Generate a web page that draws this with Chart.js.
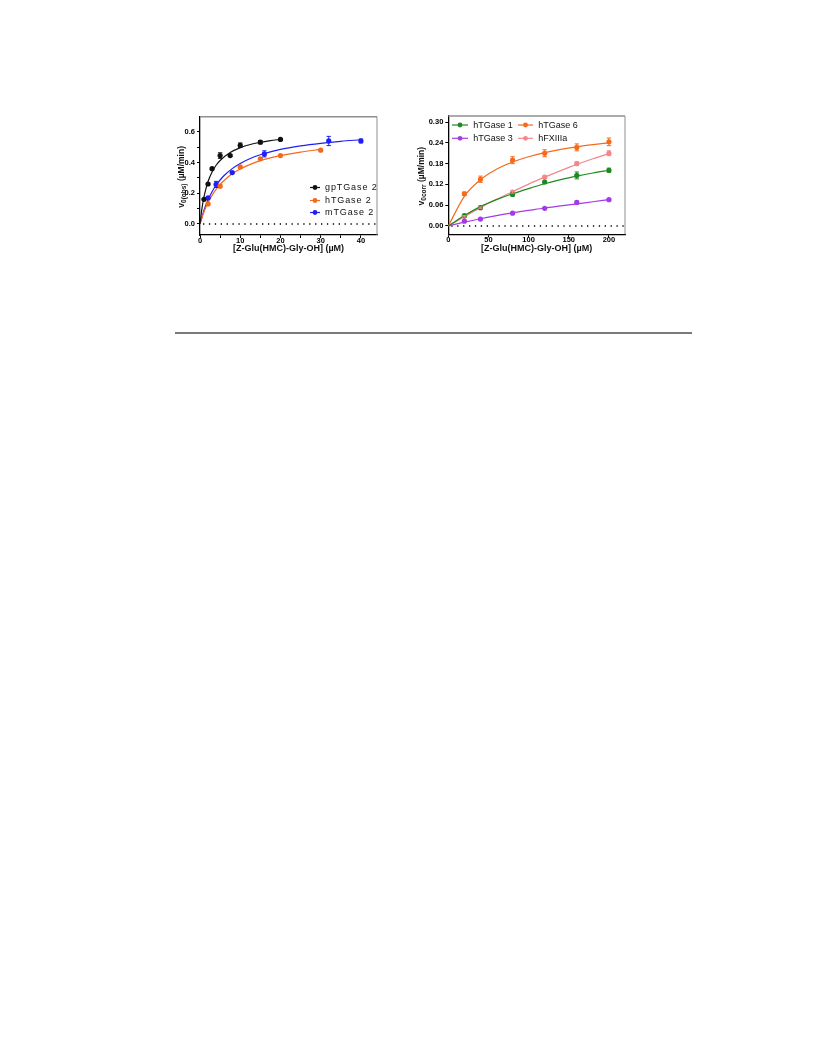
<!DOCTYPE html>
<html lang="en">
<head>
<meta charset="UTF-8">
<title>TGase kinetics</title>
<script src="https://cdn.jsdelivr.net/npm/chart.js"></script>
<style>
  body { margin: 0; background: #fff; }
  .page { position: relative; width: 816px; height: 1056px; }
  .box { position: absolute; top: 100px; width: 240px; height: 170px; }
  #leftBox { left: 150px; }
  #rightBox { left: 395px; }
  .rule { position: absolute; left: 175px; top: 332px; width: 517px; height: 2px; background: #7a7a7a; }
</style>
</head>
<body>
<div class="page">
  <div class="box" id="leftBox"><canvas id="leftChart" width="240" height="170"></canvas></div>
  <div class="box" id="rightBox"><canvas id="rightChart" width="240" height="170"></canvas></div>
  <div class="rule"></div>
</div>

<script>
// ---- left panel: TGase 2 orthologues ----
const leftXTicks = [0, 5, 10, 15, 20, 25, 30, 35, 40];
const leftYTicks = [0, 0.1, 0.2, 0.3, 0.4, 0.5, 0.6];

const gpX = [1, 2, 3, 5, 7.5, 10, 15, 20];
const gpY = [0.16, 0.26, 0.36, 0.445, 0.445, 0.512, 0.532, 0.55];
const gpErr = [0.004, 0.005, 0.005, 0.018, 0.006, 0.015, 0.01, 0.006];
const gpCurveX = [0, 0.5, 1, 1.5, 2, 3, 4, 5, 7.5, 10, 12.5, 15, 17.5, 20];
const gpCurveY = [0, 0.103, 0.177, 0.232, 0.276, 0.338, 0.382, 0.413, 0.465, 0.496, 0.517, 0.531, 0.542, 0.551];

const h2X = [2, 5, 10, 15, 20, 30];
const h2Y = [0.13, 0.246, 0.371, 0.424, 0.445, 0.48];
const h2Err = [0.006, 0.01, 0.006, 0.005, 0.005, 0.004];
const h2CurveX = [0, 1, 2, 3, 4, 5, 6, 8, 10, 12.5, 15, 17.5, 20, 25, 30];
const h2CurveY = [0, 0.079, 0.139, 0.186, 0.225, 0.257, 0.283, 0.326, 0.358, 0.388, 0.412, 0.43, 0.445, 0.468, 0.485];

const m2X = [2, 4, 8, 16, 32, 40];
const m2Y = [0.17, 0.257, 0.334, 0.456, 0.54, 0.54];
const m2Err = [0.006, 0.02, 0.006, 0.02, 0.03, 0.012];
const m2CurveX = [0, 1, 2, 3, 4, 5, 6, 8, 10, 12.5, 15, 20, 25, 30, 35, 40];
const m2CurveY = [0, 0.09, 0.158, 0.21, 0.252, 0.286, 0.315, 0.36, 0.394, 0.426, 0.45, 0.485, 0.508, 0.525, 0.538, 0.548];

// ---- right panel: human isoforms ----
const rightXTicks = [0, 50, 100, 150, 200];
const rightYTicks = [0, 0.06, 0.12, 0.18, 0.24, 0.30];
const isoX = [20, 40, 80, 120, 160, 200];

const t1Y = [0.03, 0.053, 0.091, 0.127, 0.146, 0.161];
const t1Err = [0.002, 0.002, 0.004, 0.003, 0.01, 0.006];
const t6Y = [0.093, 0.135, 0.19, 0.21, 0.227, 0.243];
const t6Err = [0.005, 0.009, 0.01, 0.01, 0.01, 0.011];
const t3Y = [0.014, 0.02, 0.037, 0.051, 0.068, 0.076];
const t3Err = [0.002, 0.002, 0.002, 0.002, 0.004, 0.002];
const fxY = [0.028, 0.053, 0.098, 0.141, 0.18, 0.21];
const fxErr = [0.002, 0.002, 0.003, 0.004, 0.005, 0.007];

const isoCurveX = [0, 20, 40, 60, 80, 100, 120, 140, 160, 180, 200];
const t1CurveY = [0, 0.03, 0.056, 0.076, 0.093, 0.108, 0.122, 0.134, 0.144, 0.153, 0.161];
const t6CurveY = [0, 0.0857, 0.1333, 0.1636, 0.1846, 0.2, 0.2118, 0.2211, 0.2286, 0.2348, 0.24];
const t3CurveY = [0, 0.011, 0.021, 0.03, 0.038, 0.045, 0.052, 0.058, 0.064, 0.07, 0.076];
const fxCurveY = [0, 0.027, 0.053, 0.077, 0.099, 0.121, 0.141, 0.16, 0.178, 0.194, 0.209];

const FONT = "'Liberation Sans', Arial, sans-serif";

function pts(xs, ys) { return xs.map((x, i) => ({ x: x, y: ys[i] })); }

function curve(xs, ys, color) {
  return { data: pts(xs, ys), borderColor: color, borderWidth: 1.2, pointRadius: 0,
           showLine: true, fill: false, cubicInterpolationMode: 'monotone', order: 2 };
}
function marks(xs, ys, errs, color) {
  return { data: pts(xs, ys), errors: errs, borderColor: color, backgroundColor: color,
           pointRadius: 2.6, pointBorderWidth: 0, showLine: false, order: 1 };
}

// error bars with small caps
const errorBars = {
  id: 'errorBars',
  afterDatasetsDraw(chart) {
    const ctx = chart.ctx, xs = chart.scales.x, ys = chart.scales.y;
    chart.data.datasets.forEach(ds => {
      if (!ds.errors) return;
      ctx.save();
      ctx.strokeStyle = ds.borderColor;
      ctx.lineWidth = 1;
      ds.data.forEach((p, j) => {
        const e = ds.errors[j];
        const x = xs.getPixelForValue(p.x);
        const top = ys.getPixelForValue(p.y + e), bot = ys.getPixelForValue(p.y - e);
        ctx.beginPath();
        ctx.moveTo(x, top); ctx.lineTo(x, bot);
        ctx.moveTo(x - 2.2, top); ctx.lineTo(x + 2.2, top);
        ctx.moveTo(x - 2.2, bot); ctx.lineTo(x + 2.2, bot);
        ctx.stroke();
      });
      ctx.restore();
    });
  }
};

// frame, dotted zero line, titles, legend
const decor = {
  id: 'decor',
  beforeDatasetsDraw(chart, args, o) {
    const ctx = chart.ctx, a = chart.chartArea, y0 = chart.scales.y.getPixelForValue(0);
    ctx.save();
    ctx.strokeStyle = '#8f8f8f';
    ctx.lineWidth = 1.5;
    ctx.beginPath();
    ctx.moveTo(a.left, a.top); ctx.lineTo(a.right, a.top);
    ctx.stroke();
    ctx.lineWidth = 1;
    ctx.beginPath();
    ctx.moveTo(a.right, a.top); ctx.lineTo(a.right, a.bottom);
    ctx.stroke();
    ctx.strokeStyle = '#000';
    ctx.lineWidth = 1.4;
    ctx.setLineDash([1.3, 4.6]);
    ctx.beginPath();
    ctx.moveTo(a.left + 3, y0); ctx.lineTo(a.right, y0);
    ctx.stroke();
    ctx.restore();
  },
  afterDraw(chart, args, o) {
    const ctx = chart.ctx, a = chart.chartArea;
    ctx.save();
    ctx.fillStyle = '#111';
    // x title
    ctx.font = 'bold 9px ' + FONT;
    ctx.textAlign = 'center';
    ctx.textBaseline = 'middle';
    ctx.fillText(o.xTitle, (a.left + a.right) / 2, a.bottom + 14);
    // y title with subscript
    ctx.save();
    ctx.translate(a.left - o.yTitleGap, (a.top + a.bottom) / 2 + 1);
    ctx.rotate(-Math.PI / 2);
    ctx.textAlign = 'left';
    ctx.font = 'bold 8.5px ' + FONT;
    const w1 = ctx.measureText('v').width;
    const rest = ' (\u00b5M/min)';
    const w3 = ctx.measureText(rest).width;
    ctx.font = 'bold 6.5px ' + FONT;
    const w2 = ctx.measureText(o.ySub).width;
    let x = -(w1 + w2 + w3) / 2;
    ctx.font = 'bold 8.5px ' + FONT;
    ctx.fillText('v', x, 0); x += w1;
    ctx.font = 'bold 6.5px ' + FONT;
    ctx.fillText(o.ySub, x, 2.3); x += w2;
    ctx.font = 'bold 8.5px ' + FONT;
    ctx.fillText(rest, x, 0);
    ctx.restore();
    // legend
    ctx.font = '9px ' + FONT;
    ctx.letterSpacing = o.legendSpacing;
    ctx.textAlign = 'left';
    o.legend.forEach(it => {
      ctx.strokeStyle = it.color;
      ctx.fillStyle = it.color;
      ctx.lineWidth = 1.2;
      ctx.beginPath();
      ctx.moveTo(it.x0, it.y); ctx.lineTo(it.x1, it.y);
      ctx.stroke();
      ctx.beginPath();
      ctx.arc((it.x0 + it.x1) / 2, it.y, 2.4, 0, Math.PI * 2);
      ctx.fill();
      ctx.fillStyle = '#111';
      ctx.fillText(it.label, it.tx, it.y + 0.5);
    });
    ctx.restore();
  }
};

function axis(min, max, tickVals, label, fitSize, isX) {
  return {
    type: 'linear', min: min, max: max,
    afterBuildTicks: s => { s.ticks = tickVals.map(v => ({ value: v })); },
    afterFit: s => { if (isX) s.height = fitSize; else s.width = fitSize; },
    ticks: { callback: label, autoSkip: false, maxRotation: 0, color: '#000', padding: isX ? -1.5 : 2,
             font: { family: FONT, size: 7.5, weight: 'bold' } },
    grid: { drawOnChartArea: false, drawTicks: true, tickLength: 3, tickColor: '#000', tickWidth: 1 },
    border: { color: '#000', width: 1.3 }
  };
}

function build(id, datasets, scales, padding, decorOpts) {
  return new Chart(document.getElementById(id), {
    type: 'scatter',
    data: { datasets: datasets },
    options: {
      responsive: false, animation: false, events: [],
      layout: { padding: padding },
      scales: scales,
      plugins: { legend: { display: false }, tooltip: { enabled: false }, decor: decorOpts }
    },
    plugins: [decor, errorBars]
  });
}

const BLACK = '#111111', ORANGE = '#f26a1f', BLUE = '#1f1ff5';
const GREEN = '#1f8a1f', ORANGE6 = '#f46b1c', PINK = '#f4878b', PURPLE = '#a53be6';

build('leftChart', [
  curve(gpCurveX, gpCurveY, BLACK), curve(h2CurveX, h2CurveY, ORANGE), curve(m2CurveX, m2CurveY, BLUE),
  marks(gpX, gpY, gpErr, BLACK), marks(h2X, h2Y, h2Err, ORANGE), marks(m2X, m2Y, m2Err, BLUE)
], {
  x: axis(0, 44, leftXTicks, v => (v % 10 === 0 ? String(v) : ''), 35, true),
  y: axis(-0.072, 0.698, leftYTicks, v => (Math.round(v * 10) % 2 === 0 ? v.toFixed(1) : ''), 50, false)
}, { top: 16.7, right: 13, left: 0, bottom: 0 }, {
  xTitle: '[Z-Glu(HMC)-Gly-OH] (\u00b5M)', ySub: '0(obs)', yTitleGap: 18, legendSpacing: '0.9px',
  legend: [
    { label: 'gpTGase 2', color: BLACK, x0: 160, x1: 170, tx: 175, y: 87.5 },
    { label: 'hTGase 2', color: ORANGE, x0: 160, x1: 170, tx: 175, y: 100.5 },
    { label: 'mTGase 2', color: BLUE, x0: 160, x1: 170, tx: 175, y: 112.5 }
  ]
});

build('rightChart', [
  curve(isoCurveX, t1CurveY, GREEN), curve(isoCurveX, t3CurveY, PURPLE),
  curve(isoCurveX, fxCurveY, PINK), curve(isoCurveX, t6CurveY, ORANGE6),
  marks(isoX, t1Y, t1Err, GREEN), marks(isoX, t3Y, t3Err, PURPLE),
  marks(isoX, fxY, fxErr, PINK), marks(isoX, t6Y, t6Err, ORANGE6)
], {
  x: axis(0, 220, rightXTicks, v => String(v), 35.7, true),
  y: axis(-0.024, 0.3176, rightYTicks, v => v.toFixed(2), 53.3, false)
}, { top: 16, right: 10, left: 0, bottom: 0 }, {
  xTitle: '[Z-Glu(HMC)-Gly-OH] (\u00b5M)', ySub: '0corr', yTitleGap: 26.8, legendSpacing: '0px',
  legend: [
    { label: 'hTGase 1', color: GREEN, x0: 57, x1: 73, tx: 78.3, y: 25 },
    { label: 'hTGase 6', color: ORANGE6, x0: 123, x1: 138, tx: 143.3, y: 25 },
    { label: 'hTGase 3', color: PURPLE, x0: 57, x1: 73, tx: 78.3, y: 38.3 },
    { label: 'hFXIIIa', color: PINK, x0: 123, x1: 138, tx: 143.3, y: 38.3 }
  ]
});
</script>
</body>
</html>
